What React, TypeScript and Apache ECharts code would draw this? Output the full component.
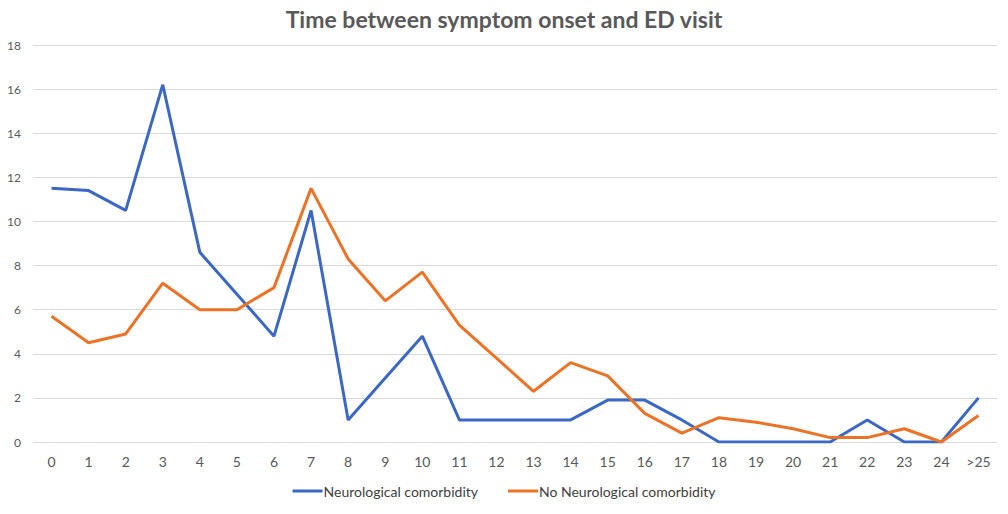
import React, { useEffect, useRef } from "react";
import * as echarts from "echarts";

const categories = ["0","1","2","3","4","5","6","7","8","9","10","11","12","13","14","15","16","17","18","19","20","21","22","23","24",">25"];
const neuro = [11.5, 11.4, 10.5, 16.2, 8.6, 6.7, 4.8, 10.5, 1.0, 2.9, 4.8, 1.0, 1.0, 1.0, 1.0, 1.9, 1.9, 1.0, 0, 0, 0, 0, 1.0, 0, 0, 2.0];
const noNeuro = [5.7, 4.5, 4.9, 7.2, 6.0, 6.0, 7.0, 11.5, 8.3, 6.4, 7.7, 5.3, 3.8, 2.3, 3.6, 3.0, 1.3, 0.4, 1.1, 0.9, 0.6, 0.2, 0.2, 0.6, 0.0, 1.2];

const FONT = "Lato, 'Open Sans', sans-serif";

export default function App() {
  const ref = useRef<HTMLDivElement>(null);
  useEffect(() => {
    const chart = echarts.init(ref.current!, null, { renderer: "svg" });
    chart.setOption({
      animation: false,
      backgroundColor: "#ffffff",
      title: {
        text: "Time between symptom onset and ED visit",
        left: "center",
        top: 2,
        textStyle: { fontFamily: FONT, fontSize: 23, fontWeight: "bold", color: "#595959" },
      },
      legend: {
        bottom: 11,
        left: "center",
        itemWidth: 30,
        itemHeight: 3,
        itemGap: 30,
        icon: "rect",
        textStyle: { fontFamily: FONT, fontSize: 14, color: "#404040", padding: [0, 0, 0, -4] },
        data: ["Neurological comorbidity", "No Neurological comorbidity"],
      },
      grid: { left: 33, right: 11, top: 45, bottom: 72, containLabel: false },
      xAxis: {
        type: "category",
        data: categories,
        boundaryGap: true,
        axisLine: { show: false },
        axisTick: { show: false },
        axisLabel: { fontFamily: FONT, fontSize: 14, color: "#595959", margin: 12 },
      },
      yAxis: {
        type: "value",
        min: 0,
        max: 18,
        interval: 2,
        axisLine: { show: false },
        axisTick: { show: false },
        splitLine: { lineStyle: { color: "#d9d9d9", width: 1 } },
        axisLabel: { fontFamily: FONT, fontSize: 12, color: "#595959", margin: 12 },
      },
      series: [
        {
          name: "Neurological comorbidity",
          type: "line",
          data: neuro,
          symbol: "none",
          lineStyle: { color: "#3a68c4", width: 3 },
          itemStyle: { color: "#3a68c4" },
        },
        {
          name: "No Neurological comorbidity",
          type: "line",
          data: noNeuro,
          symbol: "none",
          lineStyle: { color: "#ec7226", width: 3 },
          itemStyle: { color: "#ec7226" },
        },
      ],
    });
    return () => chart.dispose();
  }, []);
  return <div ref={ref} style={{ position: "fixed", left: 0, top: 0, width: 1008, height: 514 }} />;
}
